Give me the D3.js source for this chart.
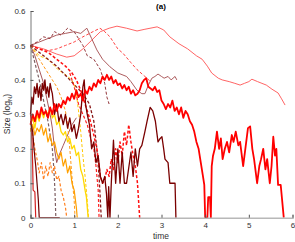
<!DOCTYPE html>
<html>
<head>
<meta charset="utf-8">
<script src="https://cdn.jsdelivr.net/npm/d3@7"></script>
<style>
  body { margin: 0; background: #fff; }
  svg { display: block; font-family: "Liberation Sans", Arial, sans-serif; }
</style>
</head>
<body>
<svg id="chart" width="295" height="242"></svg>
<script>
// tick labels
var xTicks = [0, 1, 2, 3, 4, 5, 6];
var yTicks = [0, 0.1, 0.2, 0.3, 0.4, 0.5, 0.6];

// each run: [time, size]
var lightRed = [[0,0.50],[0.3,0.49],[0.6,0.475],[0.83,0.466],[1.0,0.47],[1.2,0.49],[1.4,0.515],[1.6,0.54],[1.8,0.55],[1.98,0.556],[2.2,0.55],[2.44,0.542],[2.62,0.547],[2.9,0.554],[3.05,0.545],[3.19,0.525],[3.4,0.505],[3.6,0.49],[3.8,0.47],[3.93,0.46],[4.05,0.44],[4.15,0.42],[4.3,0.405],[4.39,0.40],[4.55,0.395],[4.68,0.39],[4.8,0.385],[4.9,0.39],[5.0,0.395],[5.07,0.402],[5.2,0.395],[5.3,0.39],[5.4,0.385],[5.53,0.373],[5.67,0.362],[5.75,0.345],[5.83,0.327]];

var brownThin = [[0,0.5],[0.2,0.51],[0.4,0.52],[0.6,0.53],[0.8,0.535],[1.0,0.54],[1.15,0.535],[1.29,0.55],[1.4,0.52],[1.52,0.487],[1.65,0.46],[1.82,0.438],[2.0,0.42],[2.2,0.41],[2.3,0.395],[2.44,0.37],[2.55,0.36],[2.62,0.36],[2.7,0.385],[2.78,0.405],[2.85,0.41],[2.92,0.417],[3.0,0.41],[3.06,0.405],[3.15,0.41],[3.22,0.40],[3.31,0.41],[3.35,0.40]];

var brownSteep = [[0,0.5],[0.1,0.47],[0.2,0.43],[0.3,0.39],[0.35,0.36],[0.4,0.33],[0.45,0.3],[0.5,0.26],[0.55,0.2],[0.6,0.16],[0.65,0.18],[0.75,0.21],[0.85,0.24],[0.95,0.27],[1.05,0.29]];

var brownDash = [[0,0.5],[0.15,0.51],[0.3,0.525],[0.45,0.52],[0.55,0.54],[0.7,0.53],[0.85,0.55],[1.0,0.54],[1.1,0.52],[1.2,0.5],[1.3,0.47],[1.45,0.46],[1.6,0.43],[1.7,0.39],[1.75,0.35],[1.8,0.33]];

var greyDash = [[0,0.5],[0.1,0.45],[0.2,0.4],[0.3,0.34],[0.4,0.28],[0.45,0.24],[0.5,0.2],[0.53,0.15],[0.56,0.08],[0.58,0]];

var maroonDash = [[0,0.5],[0.3,0.47],[0.6,0.44],[0.9,0.4],[1.2,0.36],[1.35,0.33],[1.45,0.28],[1.52,0.2],[1.57,0.12],[1.6,0.05],[1.62,0]];

var redDash = [[0,0.5],[0.2,0.49],[0.4,0.485],[0.6,0.49],[0.8,0.5],[1.0,0.51],[1.2,0.525],[1.43,0.54],[1.59,0.55],[1.7,0.54],[1.82,0.525],[2.0,0.49],[2.12,0.477],[2.3,0.45],[2.44,0.43],[2.62,0.41],[2.75,0.395]];

var redDashThick = [[0,0.5],[0.2,0.49],[0.4,0.48],[0.6,0.46],[0.8,0.44],[0.95,0.42],[1.05,0.40],[1.15,0.37],[1.25,0.33],[1.35,0.29],[1.45,0.24],[1.52,0.20],[1.57,0.15],[1.6,0.12],[1.65,0.1],[1.7,0.11],[1.75,0.14],[1.8,0.12],[1.85,0.17],[1.9,0.14],[1.95,0.2],[2.0,0.16],[2.05,0.22],[2.1,0.18],[2.15,0.25],[2.2,0.21],[2.25,0.27],[2.3,0.22],[2.35,0.18],[2.4,0.15],[2.45,0.1],[2.48,0.04],[2.5,0]];

var redDashShort = [[0.9,0.42],[1.0,0.38],[1.1,0.33],[1.2,0.3],[1.3,0.27],[1.4,0.22],[1.45,0.2],[1.5,0.15],[1.55,0.08],[1.57,0]];

var redMain = [[0,0.27],[0.05,0.3],[0.1,0.28],[0.15,0.31],[0.2,0.29],[0.25,0.32],[0.3,0.3],[0.35,0.31],[0.4,0.29],[0.45,0.32],[0.5,0.3],[0.55,0.33],[0.6,0.31],[0.65,0.33],[0.7,0.32],[0.75,0.34],[0.8,0.33],[0.85,0.35],[0.9,0.34],[0.95,0.36],[1.0,0.345],[1.05,0.37],[1.1,0.35],[1.15,0.36],[1.2,0.34],[1.25,0.37],[1.3,0.36],[1.35,0.38],[1.4,0.37],[1.45,0.39],[1.5,0.38],[1.55,0.40],[1.6,0.39],[1.65,0.41],[1.7,0.40],[1.75,0.415],[1.8,0.40],[1.85,0.41],[1.9,0.39],[1.95,0.40],[2.0,0.385],[2.05,0.39],[2.1,0.375],[2.15,0.385],[2.2,0.37],[2.25,0.38],[2.3,0.36],[2.35,0.37],[2.4,0.355],[2.45,0.36],[2.5,0.37],[2.55,0.39],[2.6,0.40],[2.65,0.405],[2.7,0.38],[2.75,0.375],[2.8,0.37],[2.85,0.38],[2.9,0.365],[2.95,0.37],[3.0,0.34],[3.05,0.33],[3.1,0.315],[3.15,0.33],[3.2,0.32],[3.25,0.34],[3.3,0.31],[3.35,0.32],[3.4,0.30],[3.45,0.32],[3.5,0.29],[3.55,0.31],[3.6,0.30],[3.65,0.28],[3.7,0.27],[3.75,0.25],[3.8,0.22],[3.85,0.2],[3.9,0.16],[3.95,0.12],[3.98,0.095],[4.0,0],[4.05,0],[4.07,0.06],[4.11,0.06],[4.13,0],[4.15,0.15],[4.18,0.18],[4.22,0.2],[4.27,0.25],[4.32,0.2],[4.36,0.23],[4.4,0.17],[4.45,0.2],[4.5,0.22],[4.55,0.19],[4.61,0.24],[4.65,0.22],[4.7,0.25],[4.76,0.21],[4.8,0.22],[4.87,0.15],[4.92,0.2],[4.98,0.26],[5.03,0.265],[5.08,0.2],[5.12,0.17],[5.15,0.14],[5.19,0.10],[5.24,0.15],[5.28,0.17],[5.33,0.20],[5.38,0.14],[5.42,0.17],[5.48,0.10],[5.52,0.15],[5.56,0.235],[5.6,0.18],[5.63,0.2],[5.67,0.095],[5.73,0.095],[5.8,0]];

var redEarly = [[0,0.3],[0.02,0.28],[0.04,0.2],[0.05,0.15],[0.06,0.08],[0.1,0.075],[0.12,0]];

var maroonEarly = [[0,0.28],[0.05,0.25],[0.08,0.2],[0.12,0.15],[0.15,0.1],[0.18,0.05],[0.2,0],[0.67,0]];

var maroonMain = [[0,0.3],[0.03,0.35],[0.06,0.33],[0.09,0.38],[0.12,0.36],[0.15,0.39],[0.18,0.35],[0.21,0.38],[0.24,0.34],[0.27,0.39],[0.3,0.37],[0.33,0.4],[0.36,0.36],[0.39,0.38],[0.42,0.35],[0.45,0.39],[0.48,0.37],[0.5,0.36],[0.55,0.3],[0.6,0.33],[0.65,0.28],[0.7,0.3],[0.75,0.27],[0.8,0.3],[0.85,0.26],[0.9,0.29],[0.95,0.25],[1.0,0.27],[1.05,0.23],[1.1,0.26],[1.15,0.3],[1.2,0.38],[1.23,0.4],[1.26,0.33],[1.3,0.3],[1.35,0.27],[1.4,0.2],[1.45,0.22],[1.5,0.16],[1.55,0.18],[1.6,0.12],[1.65,0.1],[1.7,0.12],[1.74,0.07],[1.77,0],[1.79,0.09],[1.82,0],[1.85,0.1],[1.9,0.225],[1.95,0.1],[2.0,0.2],[2.05,0.1],[2.1,0.19],[2.15,0.1],[2.2,0.1],[2.3,0.19],[2.35,0.12],[2.4,0.2],[2.45,0.15],[2.5,0.2],[2.55,0.21],[2.62,0.25],[2.67,0.28],[2.74,0.32],[2.8,0.31],[2.86,0.28],[2.92,0.22],[2.97,0.23],[3.01,0.235],[3.05,0.2],[3.08,0.17],[3.15,0.16],[3.19,0.1],[3.31,0.1],[3.33,0]];

var yellowSolid = [[0,0.27],[0.05,0.29],[0.1,0.26],[0.15,0.3],[0.2,0.28],[0.25,0.31],[0.3,0.29],[0.35,0.31],[0.4,0.3],[0.45,0.32],[0.5,0.29],[0.55,0.3],[0.6,0.27],[0.65,0.28],[0.7,0.25],[0.75,0.24],[0.8,0.25],[0.85,0.22],[0.9,0.23],[0.95,0.2],[1.0,0.21],[1.05,0.18],[1.1,0.19],[1.15,0.14],[1.2,0.12],[1.25,0.08],[1.28,0.06],[1.32,0]];

var orangeSolid = [[0,0.25],[0.05,0.27],[0.1,0.24],[0.15,0.26],[0.2,0.25],[0.25,0.27],[0.3,0.24],[0.35,0.26],[0.4,0.22],[0.45,0.24],[0.5,0.21],[0.55,0.22],[0.6,0.19],[0.65,0.17],[0.7,0.19],[0.75,0.15],[0.8,0.17],[0.85,0.13],[0.9,0.15],[0.95,0.1],[1.0,0.08],[1.05,0.03],[1.07,0]];

var orangeDash = [[0,0.5],[0.1,0.48],[0.2,0.46],[0.3,0.44],[0.4,0.42],[0.5,0.4],[0.6,0.38],[0.7,0.35],[0.8,0.31],[0.85,0.27],[0.9,0.2],[0.95,0.12],[1.0,0.05],[1.02,0]];

var orangeDashLow = [[0,0.26],[0.05,0.24],[0.1,0.2],[0.15,0.17],[0.2,0.13],[0.25,0.16],[0.3,0.11],[0.35,0.15],[0.4,0.12],[0.45,0.16],[0.5,0.13],[0.55,0.15],[0.6,0.11],[0.65,0.12],[0.7,0.08],[0.75,0.06],[0.8,0.03],[0.83,0]];

var yellowDash = [[0,0.5],[0.2,0.47],[0.4,0.46],[0.63,0.43],[0.86,0.41],[1.0,0.39],[1.05,0.36],[1.1,0.31],[1.15,0.25],[1.2,0.18],[1.25,0.12],[1.3,0.05],[1.33,0]];

// drawing order and styles
var runs = [
  { d: lightRed,      color: "#ff5252", w: 0.9, dash: null },
  { d: brownThin,     color: "#a4494c", w: 0.9, dash: null },
  { d: brownSteep,    color: "#9c4448", w: 0.9, dash: null },
  { d: brownDash,     color: "#93363b", w: 1.0, dash: "3,2" },
  { d: greyDash,      color: "#7d5f62", w: 1.2, dash: "3,2" },
  { d: redDash,       color: "#ff4040", w: 1.0, dash: "3,2" },
  { d: yellowDash,    color: "#ffc800", w: 1.0, dash: "3,2" },
  { d: orangeDash,    color: "#ff9a1a", w: 1.0, dash: "3,2" },
  { d: orangeDashLow, color: "#ff8020", w: 1.2, dash: "3,2" },
  { d: orangeSolid,   color: "#ffa000", w: 1.2, dash: null },
  { d: yellowSolid,   color: "#ffd800", w: 1.3, dash: null },
  { d: maroonDash,    color: "#8b1a1a", w: 1.3, dash: "3,2" },
  { d: redDashShort,  color: "#ff2020", w: 1.2, dash: "3,2" },
  { d: redDashThick,  color: "#ff1010", w: 1.5, dash: "3,2" },
  { d: redEarly,      color: "#d42222", w: 1.2, dash: null },
  { d: maroonEarly,   color: "#6e0000", w: 1.2, dash: null },
  { d: maroonMain,    color: "#7a0000", w: 1.3, dash: null },
  { d: redMain,       color: "#ff0000", w: 1.8, dash: null }
];

var svg = d3.select("#chart");

var x = d3.scaleLinear().domain([0, 6]).range([30.5, 292.5]);
var y = d3.scaleLinear().domain([0, 0.6]).range([217.7, 11]);

var line = d3.line()
  .x(function(d){ return x(d[0]); })
  .y(function(d){ return y(d[1]); });

svg.append("g").selectAll("path")
  .data(runs)
  .enter()
  .append("path")
  .attr("d", function(r){ return line(r.d); })
  .attr("fill", "none")
  .attr("stroke", function(r){ return r.color; })
  .attr("stroke-width", function(r){ return r.w; })
  .attr("stroke-dasharray", function(r){ return r.dash; })
  .attr("stroke-linejoin", "round");

// axes, matlab style ticks inward
var xAxis = d3.axisBottom(x).tickValues(xTicks).tickSize(-3).tickPadding(5)
  .tickFormat(d3.format("d"));
var yAxis = d3.axisLeft(y).tickValues(yTicks).tickSize(-3).tickPadding(5)
  .tickFormat(function(d){ return d === 0 ? "0" : d3.format(".1f")(d); });

var gx = svg.append("g").attr("transform", "translate(0," + y(0) + ")").call(xAxis);
gx.select(".domain").attr("stroke", "#b8b8b8").attr("stroke-width", 1.5);
gx.selectAll(".tick line").attr("stroke", "#555");

var gy = svg.append("g").attr("transform", "translate(" + x(0) + ",0)").call(yAxis);
gy.select(".domain").attr("stroke", "#555").attr("stroke-width", 0.8);
gy.selectAll(".tick line").attr("stroke", "#555");

svg.selectAll(".tick text")
  .attr("fill", "#333")
  .style("font-size", "8px")
  .style("font-family", "Liberation Sans, Arial, sans-serif");

// labels
svg.append("text")
  .attr("x", 161).attr("y", 9)
  .attr("text-anchor", "middle")
  .style("font-size", "8px")
  .style("font-weight", "bold")
  .text("(a)");

svg.append("text")
  .attr("x", 161).attr("y", 239)
  .attr("text-anchor", "middle")
  .attr("fill", "#333")
  .style("font-size", "8.5px")
  .text("time");

var yl = svg.append("text")
  .attr("transform", "translate(10,114) rotate(-90)")
  .attr("text-anchor", "middle")
  .attr("fill", "#333")
  .style("font-size", "8.5px");
yl.append("tspan").text("Size (log");
yl.append("tspan").attr("dy", 2).style("font-size", "6px").text("N");
yl.append("tspan").attr("dy", -2).text(")");
</script>
</body>
</html>
